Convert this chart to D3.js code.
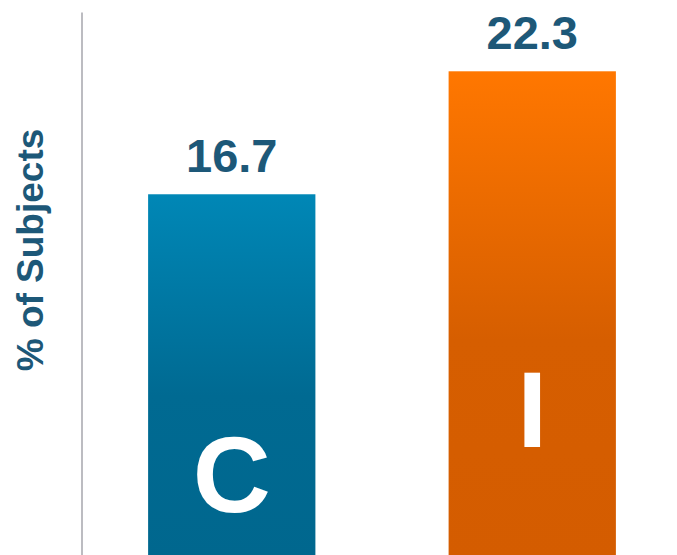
<!DOCTYPE html>
<html><head><meta charset="utf-8">
<script src="https://cdn.jsdelivr.net/npm/d3@7"></script>
<style>html,body{margin:0;padding:0;background:#fff;overflow:hidden}</style>
</head><body>
<script>
const categories = ["C", "I"];
const values = [16.7, 22.3];
const valueLabels = ["16.7", "22.3"];
const yDomain = [0, 25];

const W = 677, H = 555;
const svg = d3.select("body").append("svg").attr("width", W).attr("height", H);

const x = d3.scaleBand().domain(categories).range([82, 682]).paddingInner(0.4433).paddingOuter(0.22);
const y = d3.scaleLinear().domain(yDomain).range([561, 12]);

const defs = svg.append("defs");
const grads = [
  {id: "gC", top: "#0087b6", mid: "#006a92", bot: "#00678e"},
  {id: "gI", top: "#ff7700", mid: "#d65e00", bot: "#d45c00"}
];
grads.forEach(g => {
  const lg = defs.append("linearGradient").attr("id", g.id).attr("x1", 0).attr("y1", 0).attr("x2", 0).attr("y2", 1);
  lg.append("stop").attr("offset", "0%").attr("stop-color", g.top);
  lg.append("stop").attr("offset", "55%").attr("stop-color", g.mid);
  lg.append("stop").attr("offset", "100%").attr("stop-color", g.bot);
});

// axis line
const axis = d3.axisLeft(y).tickValues([]).tickSizeOuter(0);
const ax = svg.append("g").attr("transform", "translate(81.5,0)").call(axis);
ax.select(".domain").attr("stroke", "#a6a6ad").attr("stroke-width", 1.5);

// bars
svg.selectAll("rect.bar").data(categories).join("rect")
  .attr("class", "bar")
  .attr("x", d => x(d))
  .attr("width", x.bandwidth())
  .attr("y", (d, i) => y(values[i]))
  .attr("height", (d, i) => y(0) - y(values[i]))
  .attr("fill", (d, i) => `url(#${grads[i].id})`);

// value labels
svg.selectAll("text.val").data(categories).join("text")
  .attr("class", "val")
  .attr("x", d => x(d) + x.bandwidth() / 2)
  .attr("y", (d, i) => y(values[i]) - 22)
  .attr("text-anchor", "middle")
  .attr("font-family", "Liberation Sans, Arial, sans-serif")
  .attr("font-weight", "bold")
  .attr("font-size", 47)
  .attr("fill", "#1d5878")
  .text((d, i) => valueLabels[i]);

// letters inside bars
const letterBase = [2.23, 5.19];
svg.selectAll("text.cat").data(categories).join("text")
  .attr("class", "cat")
  .attr("x", d => x(d) + x.bandwidth() / 2)
  .attr("y", (d, i) => y(letterBase[i]))
  .attr("text-anchor", "middle")
  .attr("font-family", "Liberation Sans, Arial, sans-serif")
  .attr("font-weight", "bold")
  .attr("font-size", 108)
  .attr("fill", "#ffffff")
  .text(d => d);

// y title
svg.append("text")
  .attr("transform", "translate(43,250) rotate(-90)")
  .attr("text-anchor", "middle")
  .attr("font-family", "Liberation Sans, Arial, sans-serif")
  .attr("font-weight", "bold")
  .attr("font-size", 37)
  .attr("fill", "#1d5878")
  .text("% of Subjects");
</script>
</body></html>
